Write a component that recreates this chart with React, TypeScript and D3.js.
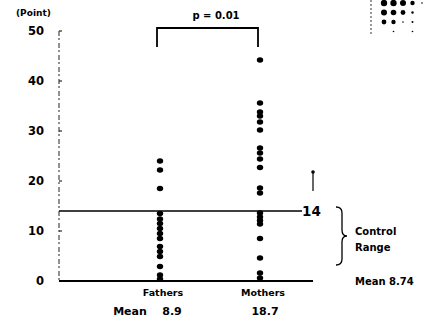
import React from "react";
import * as d3 from "d3";

const groups = ["Fathers", "Mothers"];
const fathers = [24, 22.2, 18.5, 13.5, 12.4, 11.5, 10.5, 9.5, 8.5, 6.9, 5.9, 4.9, 2.9, 1.2, 0.4];
const mothers = [44.2, 35.6, 33.8, 33.0, 31.8, 30.2, 26.6, 25.6, 24.4, 22.7, 18.6, 17.6, 13.6, 12.8, 12.1, 11.4, 8.5, 4.6, 1.6, 0.6];
const meanLabels = ["8.9", "18.7"];
const yTicks = [0, 10, 20, 30, 40, 50];
const controlUpper = 14;
const upperMarker = [18, 21.8];

const FONT = "'DejaVu Sans', 'Liberation Sans', Arial, sans-serif";

export default function App() {
  const y = d3.scaleLinear().domain([0, 50]).range([281, 31]);
  const x = d3.scalePoint<string>().domain(groups).range([160, 260]);
  const axisX = 59;
  const series = [fathers, mothers];

  const logoRows = [
    [3.2, 3.2, 3, 2.2, 0.8],
    [3, 2.8, 2.4, 1.2],
    [2.4, 2.2, 0.8, 1],
    [0, 0.8, 0, 0.8],
  ];

  return (
    <svg width={428} height={323} style={{ position: "absolute", left: 0, top: 0, background: "#fff" }}>
      <rect width={428} height={323} fill="#fff" />
      <g fontFamily={FONT} fontWeight="bold" fill="#000">
        <text x={16} y={16} fontSize={9}>(Point)</text>
        {yTicks.map((t) => (
          <g key={t}>
            <text x={44} y={y(t) + 4} fontSize={11.5} textAnchor="end">{t}</text>
            <line x1={axisX} x2={axisX + 3} y1={y(t)} y2={y(t)} stroke="#000" strokeWidth={1} />
          </g>
        ))}
      </g>
      {/* y axis (broken scan look) */}
      <line x1={axisX} x2={axisX} y1={y(50)} y2={y(0)} stroke="#222" strokeWidth={1} strokeDasharray="5,2,2,3" />
      {/* zero baseline */}
      <line x1={axisX} x2={313} y1={y(0)} y2={y(0)} stroke="#000" strokeWidth={2} />
      {/* control upper line */}
      <line x1={axisX} x2={302} y1={y(controlUpper)} y2={y(controlUpper)} stroke="#000" strokeWidth={1.4} />
      <text x={302} y={y(controlUpper) + 5} fontSize={13.5} fontWeight="bold" fontFamily={FONT}>{controlUpper}</text>
      {/* small marker above 14 */}
      <line x1={313} x2={313} y1={y(upperMarker[1])} y2={y(upperMarker[0])} stroke="#000" strokeWidth={1.2} />
      <circle cx={313} cy={y(upperMarker[1])} r={1.8} fill="#000" />
      {/* dots */}
      {series.map((vals, i) =>
        vals.map((v, j) => (
          <ellipse key={`${i}-${j}`} cx={x(groups[i])!} cy={y(v)} rx={3.2} ry={2.8} fill="#000" />
        ))
      )}
      {/* significance bracket */}
      <path
        d={`M${x(groups[0])! - 3},47 V28 H${x(groups[1])! - 2} V47`}
        fill="none"
        stroke="#000"
        strokeWidth={1.8}
      />
      <text x={216} y={19} fontSize={10} fontWeight="bold" fontFamily={FONT} textAnchor="middle">p = 0.01</text>
      {/* brace */}
      <path
        d="M336,207 Q342,207 342,213 V230 Q342,236 347,236 Q342,236 342,242 V259 Q342,265 336,265"
        fill="none"
        stroke="#000"
        strokeWidth={1.3}
      />
      <g fontFamily={FONT} fontWeight="bold" fontSize={10} fill="#000">
        <text x={355} y={235}>Control</text>
        <text x={355} y={251}>Range</text>
        <text x={355} y={285}>Mean 8.74</text>
        {groups.map((g) => (
          <text key={g} x={x(g)! + 3} y={296} textAnchor="middle" fontSize={9.5}>{g}</text>
        ))}
        <text x={130} y={315} textAnchor="middle" fontSize={11}>Mean</text>
        {meanLabels.map((m, i) => (
          <text key={m} x={i === 0 ? 172 : 265} y={315} textAnchor="middle" fontSize={11}>{m}</text>
        ))}
      </g>
      {/* top-right halftone fragment */}
      <line x1={371} x2={371} y1={0} y2={36} stroke="#333" strokeWidth={1} strokeDasharray="2,2" />
      {logoRows.map((row, r) =>
        row.map((rad, c) =>
          rad > 0 ? <circle key={`l${r}-${c}`} cx={384 + c * 9.5} cy={3 + r * 9.5} r={rad} fill="#000" /> : null
        )
      )}
    </svg>
  );
}
